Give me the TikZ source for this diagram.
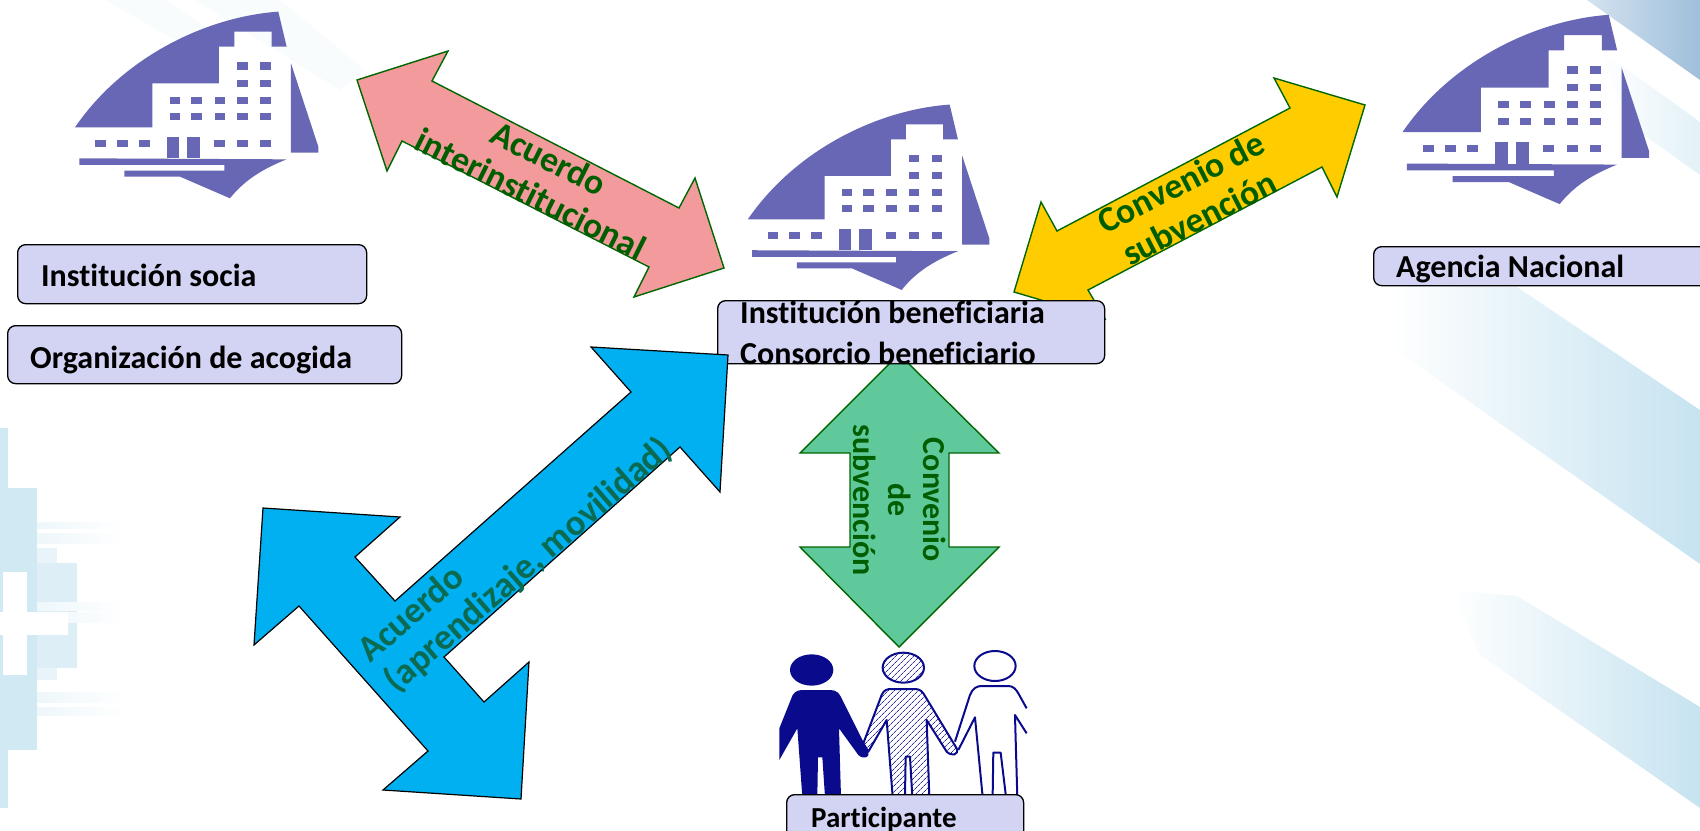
\documentclass[tikz,border=0pt]{standalone}
\usepackage{fontspec}
\setmainfont[Ligatures=NoCommon]{Carlito}
\usetikzlibrary{patterns.meta}
\definecolor{buildingblue}{HTML}{6767B6}
\definecolor{boxblue}{HTML}{D3D3F3}
\definecolor{arrowgreen}{HTML}{006600}
\definecolor{labelgreen}{HTML}{005E00}
\definecolor{peopleblue}{HTML}{0A0A8C}
\definecolor{bandblue}{HTML}{C6E3F0}
\definecolor{bandtop}{HTML}{9FBFDB}
\definecolor{pinkarrow}{HTML}{F39A9C}
\definecolor{yellowarrow}{HTML}{FFCC00}
\definecolor{greenarrow}{HTML}{5FC99B}
\definecolor{bluearrow}{HTML}{00B0F0}
\definecolor{bluelabel}{HTML}{0B6A50}
\tikzset{
  namebox/.style={draw=black,line width=1.3pt,fill=boxblue,rounded corners=8pt,anchor=north west,inner sep=0pt},
  nametext/.style={anchor=base west,inner sep=0pt,font=\fontsize{32}{36}\selectfont\bfseries},
  arrowtext/.style={text=labelgreen,align=center,inner sep=0pt,font=\fontsize{35.5}{40}\selectfont\bfseries},
  greenline/.style={draw=arrowgreen,line width=1.4pt},
  personline/.style={draw=peopleblue,line width=2pt,line join=round},
  personhatch/.style={personline,pattern={Lines[angle=45,distance=4pt,line width=.8pt]},pattern color=peopleblue!85},
  building/.pic={
    \fill[buildingblue] (105,382) .. controls (250,170) and (500,50) .. (715,35) -- (740,140) -- (695,140) -- (695,95) -- (583,95) -- (583,140) -- (537,140) -- (537,250) -- (337,250) -- (337,382) -- cycle;
    \fill[buildingblue] (753,190) -- (835,440) -- (835,458) -- (753,458) -- cycle;
    \fill[buildingblue] (118,475) -- (740,478) .. controls (660,510) and (610,545) .. (570,595) -- (420,530) -- (253,530) -- (253,512) -- (553,512) -- (553,495) -- (118,495) -- cycle;
    \fill[buildingblue] (380,410) rectangle (418,475);
    \fill[buildingblue] (442,410) rectangle (480,475);
    \foreach \wx/\wy in {607/198,677/198,607/250,677/250,405/301,470/301,540/301,607/301,677/301,405/350,470/350,540/350,607/350,677/350,181/430,247/430,313/430,538/430,607/430,677/430}
      \fill[buildingblue] (\wx-16,\wy-11) rectangle (\wx+16,\wy+11);
  }
}
\begin{document}
\begin{tikzpicture}[x=1pt,y=-1pt]
  \useasboundingbox (0,0) rectangle (1700,830);
  \shade[left color=bandtop!45,right color=bandtop] (1587,0) -- (1700,0) -- (1700,80) -- cycle;
  \shade[left color=white,right color=bandblue!50] (1600,50) -- (1700,122) -- (1700,175) -- (1630,125) -- cycle;
  \shade[left color=white,middle color=bandblue!35,right color=bandblue] (1390,285) -- (1517,287) -- (1700,410) -- (1700,564) -- (1390,346) -- cycle;
  \shade[left color=white,middle color=bandblue!35,right color=bandblue] (1450,590) -- (1517,596) -- (1700,707) -- (1700,808) -- (1480,655) -- cycle;
  \fill[bandblue!12] (105,0) -- (165,0) -- (225,40) -- (175,40) -- cycle;
  \fill[bandblue!12] (195,0) -- (280,0) -- (365,70) -- (340,90) -- cycle;
  \fill[bandblue!80] (0,428) rectangle (8,808);
  \fill[bandblue!80] (0,488) rectangle (37,750);
  \fill[bandblue!60] (37,563) rectangle (77,668);
  \fill[bandblue!40] (37,548) rectangle (57,563);
  \fill[bandblue!40] (37,668) rectangle (57,680);
  \foreach \sy/\sh in {522/6,533/10,692/10,707/8,602/8,612/10}
    \shade[left color=bandblue!30,right color=white] (37,\sy) rectangle (125,\sy+\sh);
  \fill[white] (3,572) rectangle (27,675);
  \fill[white] (0,612) rectangle (68,635);
  \pic at (40,0) [scale=.3333] {building};
  \pic at (713,93) [scale=.331] {building};
  \pic at (1367,3) [scale=.338] {building};
  \draw[greenline,fill=pinkarrow] (357,80) -- (448,51) -- (432,81) -- (679,208) -- (695,178) -- (724,268) -- (634,297) -- (649,267) -- (402,141) -- (387,171) -- cycle;
  \draw[greenline,fill=yellowarrow] (1365,105) -- (1274,78) -- (1290,108) -- (1057,231) -- (1041,202) -- (1014,292) -- (1105,319) -- (1088,290) -- (1322,167) -- (1337,197) -- cycle;
  \draw[greenline,fill=greenarrow] (899,354) -- (999,453) -- (949,453) -- (949,547) -- (999,547) -- (899,647) -- (800,547) -- (850,547) -- (850,453) -- (800,453) -- cycle;
  \node[namebox,minimum width=349pt,minimum height=59pt] (socia) at (17,244) {};
  \node[namebox,minimum width=394pt,minimum height=58pt] (acogida) at (7,325) {};
  \node[namebox,minimum width=387pt,minimum height=63pt] (beneficiaria) at (717,300) {};
  \node[namebox,minimum width=360pt,minimum height=39pt] (agencia) at (1373,246) {};
  \draw[draw=black,line width=1.2pt,fill=bluearrow] (728,355) -- (591,347) -- (631,392) -- (395,601) -- (355,557) -- (400,517) -- (263,508) -- (254,645) -- (299,606) -- (428,751) -- (383,790) -- (521,799) -- (529,662) -- (484,702) -- (444,657) -- (680,447) -- (720,492) -- cycle;
  \begin{scope}[shift={(740,640)},scale=.3333]
    \fill[peopleblue] (215,90) ellipse [x radius=65,y radius=47];
    \fill[peopleblue] (118,265) -- (158,165) .. controls (168,150) and (180,150) .. (195,150) -- (270,150) .. controls (290,150) and (298,160) .. (305,175) -- (385,335) .. controls (392,352) and (370,360) .. (355,345) -- (297,265) -- (303,470) -- (255,470) -- (247,352) -- (234,352) -- (232,470) -- (187,470) -- (172,265) -- (118,360) -- cycle;
    \path[personhatch] (490,83) ellipse [x radius=62,y radius=45];
    \path[personhatch] (370,310) -- (425,165) .. controls (432,150) and (440,147) .. (455,147) -- (525,147) .. controls (540,147) and (548,155) .. (555,168) -- (650,325) .. controls (658,345) and (635,350) .. (620,335) -- (560,240) -- (568,470) -- (517,470) -- (510,350) -- (497,350) -- (495,470) -- (458,470) -- (440,240) -- (385,335) -- cycle;
    \draw[personline] (765,78) ellipse [x radius=62,y radius=45];
    \draw[personline] (645,305) -- (690,165) .. controls (698,145) and (710,138) .. (725,138) -- (805,138) .. controls (820,138) and (828,148) .. (835,160) -- (860,205);
    \draw[personline] (860,280) -- (825,225) -- (832,470);
    \draw[personline] (798,470) -- (782,338) -- (760,338) -- (758,470);
    \draw[personline] (728,470) -- (705,232) -- (655,330);
  \end{scope}
  \node[namebox,minimum width=237pt,minimum height=60pt] (participante) at (786,794) {};
  \node[nametext] (sociatext) at (41,286) {Institución socia};
  \node[nametext] (acogidatext) at (30,368) {Organización de acogida};
  \node[nametext] (beneficiariatext) at (740,323) {Institución beneficiaria};
  \node[nametext] (consorciotext) at (740,364) {Consorcio beneficiario};
  \node[nametext] (agenciatext) at (1396,277) {Agencia Nacional};
  \node[nametext,font=\fontsize{29}{36}\selectfont\bfseries] (participantetext) at (811,827) {Participante};
  \node[arrowtext,rotate=-26.5] (interinst) at (540,176) {Acuerdo\\interinstitucional};
  \node[arrowtext,rotate=27] (subvencion) at (1190,200) {Convenio de\\subvención};
  \node[arrowtext,rotate=41,align=left,text=bluelabel,font=\fontsize{36.5}{40}\selectfont\bfseries] (movilidad) at (516,551) {Acuerdo\\(aprendizaje, movilidad)};
  \node[arrowtext,rotate=-90,font=\fontsize{32}{35}\selectfont\bfseries] (subvencionbaja) at (900,500) {Convenio\\de\\subvención};
\end{tikzpicture}
\end{document}
